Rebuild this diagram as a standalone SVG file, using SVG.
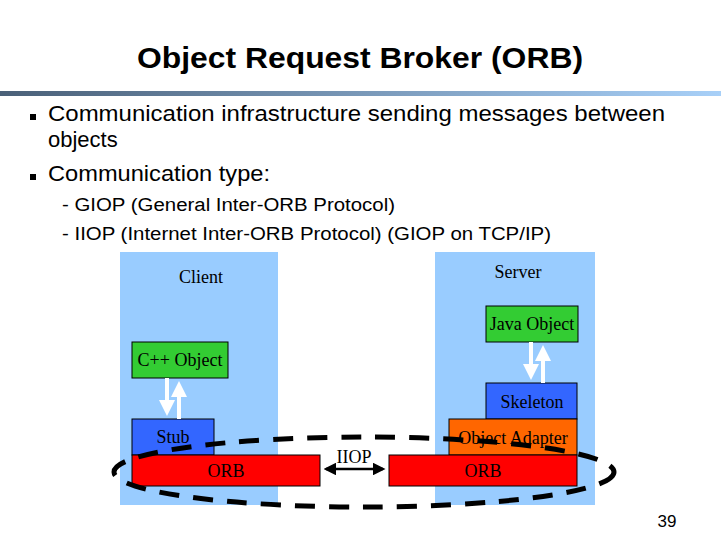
<svg xmlns="http://www.w3.org/2000/svg" width="721" height="541" viewBox="0 0 721 541">
<defs>
<linearGradient id="bar" x1="0" x2="1"><stop offset="0" stop-color="#4a6078"/><stop offset="1" stop-color="#a8d0f8"/></linearGradient>
<marker id="wa" markerWidth="4" markerHeight="4" refX="3" refY="2" orient="auto" markerUnits="strokeWidth"><path d="M0,0 L4,2 L0,4 z" fill="#fff"/></marker>
<marker id="ba" markerWidth="5" markerHeight="5" refX="4" refY="2.5" orient="auto-start-reverse" markerUnits="strokeWidth"><path d="M0,0 L5,2.5 L0,5 z" fill="#000"/></marker>
</defs>
<style>
.s{font-family:"Liberation Sans",Arial,sans-serif}
.t{font-family:"Liberation Serif","Times New Roman",serif;font-size:18px;text-anchor:middle}
.bx{stroke:#000;stroke-width:1}
.w{stroke:#fff;stroke-width:4;fill:none;marker-end:url(#wa)}
</style>
<rect width="721" height="541" fill="#fff"/>
<text x="137" y="68" class="s" font-size="29" font-weight="bold" textLength="446" lengthAdjust="spacingAndGlyphs">Object Request Broker (ORB)</text>
<rect x="0" y="91" width="721" height="5" fill="url(#bar)"/>
<g class="s" font-size="22">
<rect x="30" y="114" width="6" height="6"/>
<text x="48" y="121" textLength="617" lengthAdjust="spacingAndGlyphs">Communication infrastructure sending messages between</text>
<text x="48" y="147">objects</text>
<rect x="30" y="174" width="6" height="6"/>
<text x="48" y="181" textLength="222" lengthAdjust="spacingAndGlyphs">Communication type:</text>
</g>
<g class="s" font-size="18">
<text x="62" y="211" textLength="333" lengthAdjust="spacingAndGlyphs">- GIOP (General Inter-ORB Protocol)</text>
<text x="62" y="240" textLength="489" lengthAdjust="spacingAndGlyphs">- IIOP (Internet Inter-ORB Protocol)  (GIOP on TCP/IP)</text>
</g>
<g id="client"><rect x="120" y="252" width="158" height="253" fill="#99ccff"/><text x="201" y="283" class="t">Client</text></g>
<g id="server"><rect x="435" y="252" width="160" height="253" fill="#99ccff"/><text x="518" y="278" class="t">Server</text></g>
<g id="cpp"><rect x="132" y="342" width="96" height="36" fill="#33cc33" class="bx"/><text x="180" y="366" class="t">C++ Object</text></g>
<g id="java"><rect x="486" y="306" width="92" height="36" fill="#33cc33" class="bx"/><text x="532" y="330" class="t">Java Object</text></g>
<g id="skeleton"><rect x="486" y="383" width="91" height="36" fill="#3366ff" class="bx"/><text x="532" y="408" class="t">Skeleton</text></g>
<g id="adapter"><rect x="449" y="419" width="128" height="36" fill="#ff6600" class="bx"/><text x="513" y="444" class="t">Object Adapter</text></g>
<g id="stub"><rect x="132" y="419" width="82" height="36" fill="#3366ff" class="bx"/><text x="173" y="443" class="t">Stub</text></g>
<g id="orb1"><rect x="132" y="455" width="188" height="31" fill="#ff0000" class="bx"/><text x="226" y="477" class="t">ORB</text></g>
<g id="orb2"><rect x="389" y="455" width="188" height="31" fill="#ff0000" class="bx"/><text x="483" y="477" class="t">ORB</text></g>
<g id="connectors">
<line x1="167" y1="378" x2="167" y2="412" class="w"/>
<line x1="179" y1="419" x2="179" y2="385" class="w"/>
<line x1="531" y1="342" x2="531" y2="376" class="w"/>
<line x1="543" y1="383" x2="543" y2="349" class="w"/>
<line x1="326" y1="469" x2="383" y2="469" stroke="#000" stroke-width="2.5" marker-start="url(#ba)" marker-end="url(#ba)"/>
<text x="354" y="463" class="t">IIOP</text>
</g>
<ellipse cx="364" cy="472" rx="250" ry="35" fill="none" stroke="#000" stroke-width="5" stroke-dasharray="20 14"/>
<text x="667" y="527" class="s" font-size="17" text-anchor="middle">39</text>
</svg>
